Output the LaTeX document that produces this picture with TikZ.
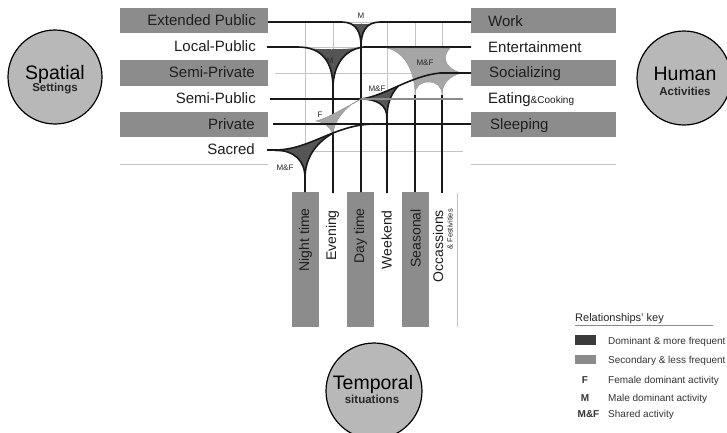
\documentclass[tikz,border=0pt]{standalone}
\usepackage{fontspec}
\setmainfont{Liberation Sans}
\definecolor{boxgray}{HTML}{8C8C8C}
\definecolor{darkfill}{HTML}{555555}
\definecolor{lightfill}{HTML}{A6A6A6}
\definecolor{gridgray}{HTML}{C4C4C4}
\definecolor{circlegray}{HTML}{B8B8B8}
\definecolor{inkgray}{HTML}{1E1E1E}
\definecolor{keydark}{HTML}{3A3A3A}
\definecolor{keylight}{HTML}{8A8A8A}
\begin{document}
\begin{tikzpicture}[x=1pt,y=-1pt,
  bandbox/.style={fill=boxgray,draw=none},
  rowtext/.style={font=\fontsize{15}{18}\selectfont,text=inkgray,inner sep=0pt},
  coltext/.style={font=\fontsize{14}{16}\selectfont,rotate=90,anchor=east,inner sep=0pt,text=inkgray},
  ramp/.style={line width=1.6pt,draw=black!90},
  gridln/.style={line width=1pt,draw=gridgray},
  tag/.style={font=\fontsize{8}{9}\selectfont,inner sep=0pt,text=black!85},
  hub/.style={circle,fill=circlegray,draw=black,line width=1.2pt,minimum size=94pt,inner sep=0pt},
  bigword/.style={font=\fontsize{19.5}{22}\selectfont,anchor=base,inner sep=0pt},
  smallword/.style={font=\bfseries\fontsize{11.5}{13}\selectfont,anchor=base,inner sep=0pt,text=black!85},
  keytext/.style={font=\fontsize{10}{12}\selectfont,anchor=base west,inner sep=0pt,text=black!80},
  keymark/.style={font=\bfseries\fontsize{10}{12}\selectfont,anchor=base,inner sep=0pt,text=black!80}]
\useasboundingbox (0,0) rectangle (727,432);

% ---- hubs ----
\node[hub] (spatial) at (55,77) {};
\node[bigword] (spatialA) at (55,79) {Spatial};
\node[smallword] (spatialB) at (55,91) {Settings};
\node[hub] (human) at (684,78) {};
\node[bigword] (humanA) at (685,80) {Human};
\node[smallword] (humanB) at (685,95) {Activities};
\node[hub,minimum size=96pt] (temporal) at (374,391) {};
\node[bigword] (temporalA) at (373,389) {Temporal};
\node[smallword] (temporalB) at (372,403) {situations};

% ---- spatial settings (left) ----
\path[bandbox] (120,8) rectangle (268,33);
\path[bandbox] (120,60) rectangle (268,86);
\path[bandbox] (120,112) rectangle (268,137);
\node[rowtext,anchor=base east] (extpub) at (256,25) {Extended Public};
\node[rowtext,anchor=base east] (locpub) at (256,51) {Local-Public};
\node[rowtext,anchor=base east] (semipriv) at (255,77) {Semi-Private};
\node[rowtext,anchor=base east] (semipub) at (256,103) {Semi-Public};
\node[rowtext,anchor=base east] (priv) at (255,129) {Private};
\node[rowtext,anchor=base east] (sacred) at (255,154) {Sacred};
\draw[gridln] (120,164) -- (268,164);

% ---- human activities (right) ----
\path[bandbox] (471,8) rectangle (616,33);
\path[bandbox] (471,60) rectangle (616,86);
\path[bandbox] (471,112) rectangle (616,137);
\node[rowtext,anchor=base west] (work) at (488,26) {Work};
\node[rowtext,anchor=base west] (ent) at (488,52) {Entertainment};
\node[rowtext,anchor=base west] (social) at (489,77) {Socializing};
\node[rowtext,anchor=base west] (eat) at (488,103) {Eating{\fontsize{10}{12}\selectfont\&Cooking}};
\node[rowtext,anchor=base west] (sleep) at (490,129) {Sleeping};
\draw[gridln] (471,164) -- (616,164);

% ---- temporal situations (bottom) ----
\path[bandbox] (292,192) rectangle (319,327);
\path[bandbox] (347,192) rectangle (374,327);
\path[bandbox] (402,192) rectangle (429,327);
\node[coltext] (night) at (305.5,208) {Night time};
\node[coltext] (evening) at (332.5,210) {Evening};
\node[coltext] (day) at (360.5,208) {Day time};
\node[coltext] (weekend) at (386.5,210) {Weekend};
\node[coltext] (seasonal) at (415.5,209) {Seasonal};
\node[coltext] (occasions) at (438,210) {Occassions};
\node[coltext,font=\fontsize{7.5}{9}\selectfont] (festiv) at (450,209) {\& Festivities};
\draw[gridln] (457,193) -- (457,327);

% ---- light grid ----
\foreach \y in {22,47,73,99,124,151} \draw[gridln] (275,\y) -- (463,\y);
\foreach \x in {305,333,361,387,415,442} \draw[gridln] (\x,22) -- (\x,192);

% ---- Extended Public -> Day time (M) ----
\fill[darkfill] (342,22) .. controls (356,22) and (361,32) .. (361,46)
  .. controls (361,32) and (366,22) .. (380,22) .. controls (372,25) and (350,25) .. cycle;
\draw[ramp] (268,22) -- (342,22) .. controls (356,22) and (361,32) .. (361,46) -- (361,192);
\draw[ramp] (471,22) -- (380,22) .. controls (366,22) and (361,32) .. (361,46);

% ---- Local-Public -> Evening (M) ----
\fill[darkfill] (298,47) .. controls (322,47) and (333,62) .. (333,88)
  .. controls (333,66) and (344,49) .. (364,47) .. controls (345,50) and (318,50) .. cycle;
\draw[ramp] (267,47) -- (298,47) .. controls (322,47) and (333,62) .. (333,88) -- (333,193);
\draw[ramp] (471,47) -- (364,47) .. controls (344,49) and (333,66) .. (333,88);

% ---- Local-Public / Socializing -> Seasonal, Occasions (M&F) ----
\fill[lightfill,draw=black!40,line width=0.5pt] (387,48) -- (450,48)
  .. controls (443,55) and (442,68) .. (462,73)
  .. controls (448,76) and (442,85) .. (442,95)
  .. controls (442,86) and (436,82) .. (428.5,82)
  .. controls (421,82) and (415,86) .. (415,95)
  .. controls (415,72) and (405,52) .. cycle;
\draw[ramp] (415,95) -- (415,192);
\draw[ramp] (442,95) -- (442,193);

% ---- Semi-Public -> Socializing, Weekend (M&F) ----
\fill[darkfill] (361,99) .. controls (373,97.5) and (385.25,91.75) .. (398.25,86)
  .. controls (390,95) and (387,105) .. (387,118)
  .. controls (387,105) and (377,99) .. cycle;
\draw[ramp] (361,99) .. controls (385,96) and (410,76) .. (440,73) -- (471,73);
\draw[ramp] (398.25,86) .. controls (390,95) and (387,105) .. (387,118) -- (387,193);
\draw[ramp] (270,99) -- (361,99) .. controls (377,99) and (387,105) .. (387,118);
\draw[line width=1.1pt,draw=black!45] (361,99) -- (463,99);

% ---- Private -> Evening (F) ----
\fill[lightfill,draw=black!40,line width=0.5pt] (316,121)
  .. controls (328,118) and (340,110) .. (352,104)
  .. controls (342,112) and (334,122) .. (333,134)
  .. controls (330,127) and (324,122) .. cycle;
\draw[line width=0.8pt,draw=black!45] (352,104) -- (361,99);
\draw[ramp] (273,124) -- (471,124);

% ---- Sacred -> Private, Night time (M&F) ----
\fill[darkfill] (275,150) .. controls (296,150) and (313.4,140.6) .. (332.6,133.3)
  .. controls (314,144) and (305,160) .. (305,178)
  .. controls (305,161) and (295,150.5) .. cycle;
\draw[ramp] (267,150) -- (275,150) .. controls (310,150) and (335,124) .. (375,124);
\draw[ramp] (332.6,133.3) .. controls (314,144) and (305,160) .. (305,178) -- (305,192);
\draw[ramp] (275,150) .. controls (295,150.5) and (305,161) .. (305,178);

% ---- relationship tags ----
\node[tag] (tagA) at (361,16) {M};
\node[tag] (tagB) at (330,61) {M};
\node[tag] (tagC) at (425,63) {M\&F};
\node[tag] (tagD) at (377,89) {M\&F};
\node[tag] (tagE) at (320,115) {F};
\node[tag] (tagF) at (285,168) {M\&F};

% ---- key ----
\node[font=\fontsize{11}{13}\selectfont,anchor=base west,inner sep=0pt,text=black!85] (keyhead) at (575,321) {Relationships' key};
\draw[line width=0.8pt,draw=black!45] (575,325) -- (713,325);
\path[fill=keydark] (575,335) rectangle (596,345);
\path[fill=keylight] (575,355) rectangle (596,364);
\node[keytext] (k1) at (608,344) {Dominant \& more frequent};
\node[keytext] (k2) at (608,363) {Secondary \& less frequent};
\node[keymark] (m3) at (585,383) {F};
\node[keytext] (k3) at (608,383) {Female dominant activity};
\node[keymark] (m4) at (585,401) {M};
\node[keytext] (k4) at (608,401) {Male dominant activity};
\node[keymark] (m5) at (588.5,417) {M\&F};
\node[keytext] (k5) at (608,417) {Shared activity};
\end{tikzpicture}
\end{document}
